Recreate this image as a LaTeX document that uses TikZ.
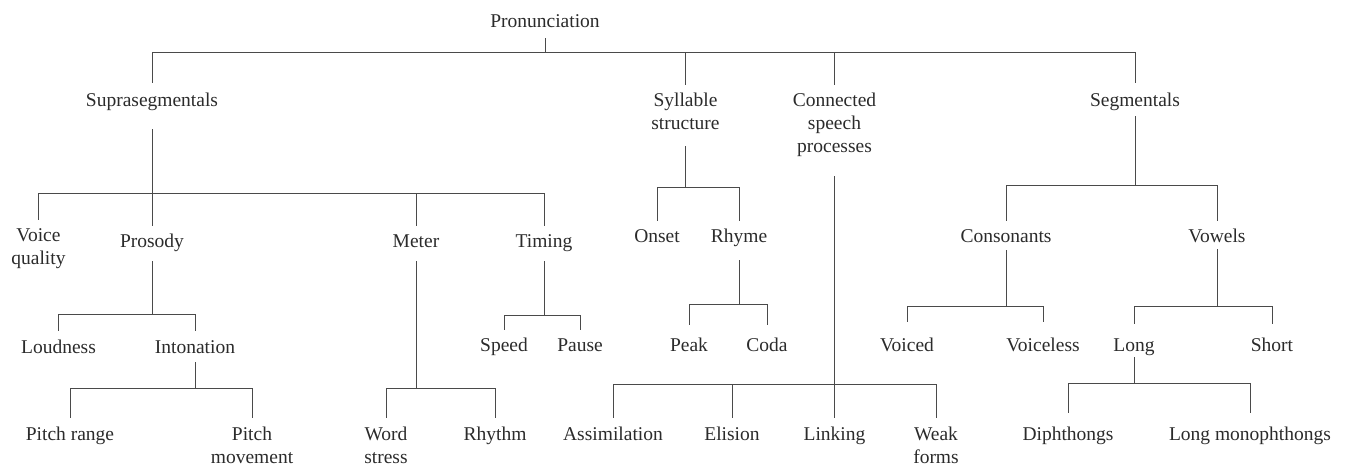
\documentclass[tikz,border=0pt]{standalone}
\usepackage{fontspec}
\setmainfont{Liberation Serif}
\definecolor{txtcol}{HTML}{2B2B2B}
\definecolor{lncol}{HTML}{4A4A4A}
\newcommand{\mstack}[1]{\begin{tabular}[t]{@{}c@{}}#1\end{tabular}}
\begin{document}
\begin{tikzpicture}[x=1pt,y=-1pt,
  lbl/.style={font=\fontsize{19.5}{23}\selectfont, text=txtcol, inner xsep=2pt, inner ysep=6pt, anchor=base},
  ln/.style={draw=lncol, line width=1pt}]
\useasboundingbox (0,0) rectangle (1345,465);
% nodes
\node[lbl] (pron) at (545,28) {\mstack{Pronunciation}};
\node[lbl] (supra) at (152,107) {\mstack{Suprasegmentals}};
\node[lbl] (syl) at (685.5,107) {\mstack{Syllable\\structure}};
\node[lbl] (csp) at (834.5,107) {\mstack{Connected\\speech\\processes}};
\node[lbl] (seg) at (1135,107) {\mstack{Segmentals}};
\node[lbl] (voice) at (38.5,242) {\mstack{Voice\\quality}};
\node[lbl] (pros) at (152,248) {\mstack{Prosody}};
\node[lbl] (meter) at (416,248) {\mstack{Meter}};
\node[lbl] (timing) at (544,248) {\mstack{Timing}};
\node[lbl] (onset) at (657,243) {\mstack{Onset}};
\node[lbl] (rhyme) at (739,243) {\mstack{Rhyme}};
\node[lbl] (cons) at (1006,243) {\mstack{Consonants}};
\node[lbl] (vowels) at (1217,243) {\mstack{Vowels}};
\node[lbl] (loud) at (58.5,353) {\mstack{Loudness}};
\node[lbl] (inton) at (195,353) {\mstack{Intonation}};
\node[lbl] (speed) at (504,352) {\mstack{Speed}};
\node[lbl] (pause) at (580,352) {\mstack{Pause}};
\node[lbl] (peak) at (689,352) {\mstack{Peak}};
\node[lbl] (coda) at (767,352) {\mstack{Coda}};
\node[lbl] (voiced) at (907,352) {\mstack{Voiced}};
\node[lbl] (voiceless) at (1043,352) {\mstack{Voiceless}};
\node[lbl] (long) at (1134,352) {\mstack{Long}};
\node[lbl] (short) at (1272,352) {\mstack{Short}};
\node[lbl] (prange) at (70,440) {\mstack{Pitch range}};
\node[lbl] (pmove) at (252,440) {\mstack{Pitch\\movement}};
\node[lbl] (wstress) at (386,440) {\mstack{Word\\stress}};
\node[lbl] (rhythm) at (495,440) {\mstack{Rhythm}};
\node[lbl] (assim) at (613,440) {\mstack{Assimilation}};
\node[lbl] (elision) at (732,440) {\mstack{Elision}};
\node[lbl] (linking) at (834.5,440) {\mstack{Linking}};
\node[lbl] (weak) at (936,440) {\mstack{Weak\\forms}};
\node[lbl] (diph) at (1068,440) {\mstack{Diphthongs}};
\node[lbl] (lmono) at (1250,440) {\mstack{Long monophthongs}};
% bar levels
\coordinate (bTop) at (0,53);
\coordinate (bSupra) at (0,194);
\coordinate (bPros) at (0,315);
\coordinate (bInton) at (0,388);
\coordinate (bMeter) at (0,388);
\coordinate (bTiming) at (0,316);
\coordinate (bSyl) at (0,188);
\coordinate (bRhyme) at (0,305);
\coordinate (bCsp) at (0,384);
\coordinate (bSeg) at (0,186);
\coordinate (bCons) at (0,307);
\coordinate (bVow) at (0,307);
\coordinate (bLong) at (0,383);
% Pronunciation
\draw[ln, shorten <=-3pt] (pron.south) -- (pron.south |- bTop);
\draw[ln, shorten <=2pt, shorten >=2pt] (supra.north) |- (seg.north |- bTop) -- (seg.north);
\draw[ln] (syl.north) -- (syl.north |- bTop);
\draw[ln] (csp.north) -- (csp.north |- bTop);
% Suprasegmentals
\draw[ln, shorten <=9pt] (supra.south) -- (pros.north);
\draw[ln] (voice.north) |- (timing.north |- bSupra) -- (timing.north);
\draw[ln] (meter.north) -- (meter.north |- bSupra);
% Prosody
\draw[ln] (pros.south) -- (pros.south |- bPros);
\draw[ln] (loud.north) |- (inton.north |- bPros) -- (inton.north);
% Intonation
\draw[ln, shorten <=-4pt] (inton.south) -- (inton.south |- bInton);
\draw[ln] (prange.north) |- (pmove.north |- bInton) -- (pmove.north);
% Meter
\draw[ln] (meter.south) -- (meter.south |- bMeter);
\draw[ln] (wstress.north) |- (rhythm.north |- bMeter) -- (rhythm.north);
% Timing
\draw[ln] (timing.south) -- (timing.south |- bTiming);
\draw[ln] (speed.north) |- (pause.north |- bTiming) -- (pause.north);
% Syllable structure
\draw[ln, shorten <=3pt] (syl.south) -- (syl.south |- bSyl);
\draw[ln] (onset.north) |- (rhyme.north |- bSyl) -- (rhyme.north);
% Rhyme
\draw[ln, shorten <=4pt] (rhyme.south) -- (rhyme.south |- bRhyme);
\draw[ln, shorten <=5pt, shorten >=5pt] (peak.north) |- (coda.north |- bRhyme) -- (coda.north);
% Connected speech processes
\draw[ln, shorten <=10pt] (csp.south) -- (linking.north);
\draw[ln] (assim.north) |- (weak.north |- bCsp) -- (weak.north);
\draw[ln] (elision.north) -- (elision.north |- bCsp);
% Segmentals
\draw[ln, shorten <=-4pt] (seg.south) -- (seg.south |- bSeg);
\draw[ln] (cons.north) |- (vowels.north |- bSeg) -- (vowels.north);
% Consonants
\draw[ln, shorten <=-6pt] (cons.south) -- (cons.south |- bCons);
\draw[ln, shorten <=8pt, shorten >=8pt] (voiced.north) |- (voiceless.north |- bCons) -- (voiceless.north);
% Vowels
\draw[ln, shorten <=-7pt] (vowels.south) -- (vowels.south |- bVow);
\draw[ln, shorten <=6pt, shorten >=6pt] (long.north) |- (short.north |- bVow) -- (short.north);
% Long
\draw[ln, shorten <=-8pt] (long.south) -- (long.south |- bLong);
\draw[ln, shorten <=5pt, shorten >=5pt] (diph.north) |- (lmono.north |- bLong) -- (lmono.north);
\end{tikzpicture}
\end{document}
